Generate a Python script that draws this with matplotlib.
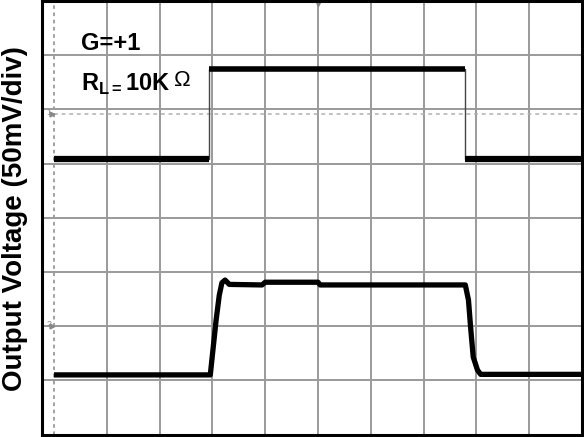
import numpy as np
import matplotlib
matplotlib.use("Agg")
import matplotlib.pyplot as plt

plt.rcParams['font.family'] = ['Liberation Sans', 'DejaVu Sans']
plt.rcParams['mathtext.fontset'] = 'custom'
plt.rcParams['mathtext.rm'] = 'Liberation Sans'
plt.rcParams['mathtext.bf'] = 'Liberation Sans:bold'

# scope screen in divisions: time 0..10, voltage 0..8
# channel 1 (input step)
ch1_t = [0, 2.94, 2.94, 7.79, 7.79, 10]
ch1_v = [5.09, 5.09, 6.74, 6.74, 5.08, 5.08]

# channel 2 (output, G=+1, RL=10K)
ch2_t = [0, 2.96, 3.01, 3.07, 3.13, 3.18, 3.24, 3.32, 3.94, 4.0, 5.0, 5.04,
         7.79, 7.85, 7.89, 7.94, 8.02, 8.08, 10]
ch2_v = [1.10, 1.10, 1.56, 2.11, 2.57, 2.80, 2.85, 2.77, 2.76, 2.81, 2.81, 2.76,
         2.76, 2.48, 1.98, 1.43, 1.19, 1.11, 1.11]

ch1_ref = 5.91   # channel 1 ground marker
ch2_ref = 2.0    # channel 2 ground marker

fig = plt.figure(figsize=(5.84, 4.37), dpi=100)
ax = fig.add_axes([42/584, 2.5/437, 540/584, 433.5/437])
ax.set_xlim(-12/52.75, 10)
ax.set_ylim(0, 8)

gcol = '#9a9a9a'
for k in range(1, 10):
    ax.axvline(k, color=gcol, lw=1.4, zorder=1)
for k in range(1, 8):
    ax.axhline(k, color=gcol, lw=1.4, zorder=1)
ax.axvline(0, color=gcol, lw=1.3, ls=(0, (2, 2)), zorder=1)
ax.plot([0, 10], [ch1_ref, ch1_ref], color='#b0b0b0', lw=1.1, ls=(0, (2.5, 2.5)), zorder=1)

# channel 1: thin edges, thick noisy levels
ax.plot(ch1_t, ch1_v, color='#444444', lw=1, zorder=3)
for i in range(len(ch1_t) - 1):
    if ch1_v[i] == ch1_v[i + 1]:
        w = 4.5 if ch1_v[i] < 6 else 4
        ax.plot(ch1_t[i:i+2], ch1_v[i:i+2], color='black', lw=w,
                solid_capstyle='butt', zorder=4)

# channel 2
ax.plot(ch2_t, ch2_v, color='black', lw=3.8, solid_capstyle='butt',
        solid_joinstyle='round', zorder=4)

# channel markers
ax.text(-0.1, ch1_ref + 0.03, '1', color='#888888', fontsize=6.5, ha='center', va='center')
ax.plot(-0.03, ch1_ref, marker='>', color='#888888', ms=3.5, clip_on=False)
ax.text(-0.1, ch2_ref + 0.03, '2', color='#888888', fontsize=6.5, ha='center', va='center')
ax.plot(-0.03, ch2_ref, marker='>', color='#888888', ms=3.5, clip_on=False)
ax.plot(5, 7.97, marker='v', color='#888888', ms=4, clip_on=False)

ax.text(0.52, 7.22, 'G=+1', fontsize=17, fontweight='bold', ha='left', va='center')
ax.text(0.52, 6.47, r'$\mathbf{R}_{\mathbf{L=}}\mathbf{10K}$', fontsize=17,
        ha='left', va='center')
ax.text(2.27, 6.53, '\u03a9', fontsize=16, ha='left', va='center')

ax.set_xticks([])
ax.set_yticks([])
for s in ax.spines.values():
    s.set_linewidth(2.2)
    s.set_color('black')

fig.text(15/584, 0.499, 'Output Voltage (50mV/div)', rotation=90, fontsize=20,
         fontweight='bold', ha='center', va='center')

fig.savefig('out.png', dpi=100)
